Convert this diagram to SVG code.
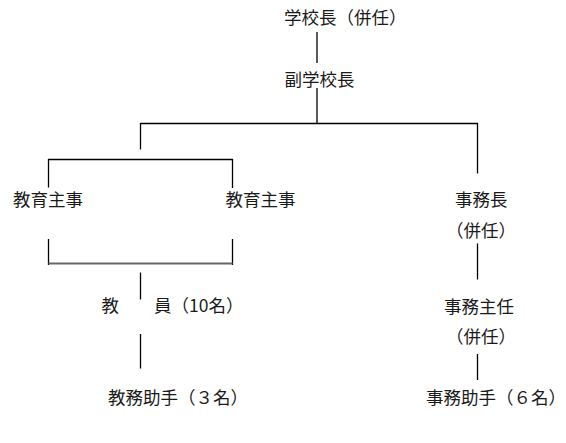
<svg xmlns="http://www.w3.org/2000/svg" width="566" height="443" viewBox="0 0 566 443">
<style>
text{font-family:"Noto Sans CJK JP","Noto Sans CJK SC",sans-serif;font-size:17.5px;fill:#1a1a1a}
.c line{stroke:#000;stroke-width:1.3;fill:none}
.c .g{stroke:#666;stroke-width:2}
</style>
<rect width="566" height="443" fill="#fff"/>
<g class="c" id="connectors">
<line x1="317" y1="32" x2="317" y2="63"/>
<line x1="317" y1="88" x2="317" y2="124"/>
<line x1="140.5" y1="123.5" x2="478" y2="123.5"/>
<line x1="140.5" y1="123" x2="140.5" y2="149.5"/>
<line x1="477.5" y1="123" x2="477.5" y2="173.5"/>
<line x1="48" y1="159.5" x2="233" y2="159.5"/>
<line x1="48.5" y1="159" x2="48.5" y2="187.5"/>
<line x1="232.5" y1="159" x2="232.5" y2="188"/>
<line x1="48.5" y1="239" x2="48.5" y2="265"/>
<line x1="232.5" y1="239" x2="232.5" y2="265"/>
<line class="g" x1="48.5" y1="263.5" x2="232.5" y2="263.5"/>
<line x1="140.5" y1="272.5" x2="140.5" y2="299.5"/>
<line x1="140.5" y1="334" x2="140.5" y2="368.5"/>
<line x1="477.5" y1="243.5" x2="477.5" y2="279.5"/>
<line x1="477.5" y1="354" x2="477.5" y2="380"/>
</g>
<g id="principal"><text x="284" y="24">学校長（併任）</text></g>
<g id="vice-principal"><text x="284.5" y="85.5">副学校長</text></g>
<g id="head-teacher-1"><text x="13" y="206">教育主事</text></g>
<g id="head-teacher-2"><text x="225.5" y="206">教育主事</text></g>
<g id="office-chief"><text x="455" y="206">事務長</text><text x="446" y="237">（併任）</text></g>
<g id="teachers"><text x="101.5" y="312">教　　員（10名）</text></g>
<g id="office-manager"><text x="444" y="312.5">事務主任</text><text x="446" y="342.5">（併任）</text></g>
<g id="teaching-assistants"><text x="108" y="403.5">教務助手（３名）</text></g>
<g id="office-assistants"><text x="426" y="403.5">事務助手（６名）</text></g>
</svg>
